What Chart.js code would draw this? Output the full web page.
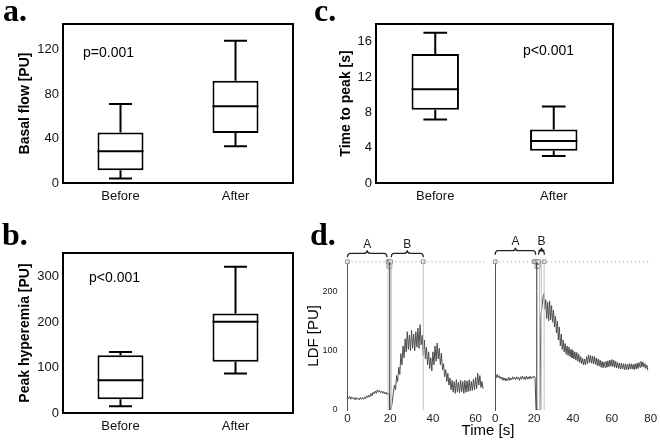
<!DOCTYPE html>
<html>
<head>
<meta charset="utf-8">
<script src="https://cdn.jsdelivr.net/npm/chart.js@4.4.0/dist/chart.umd.min.js"></script>
<style>
html, body { margin: 0; padding: 0; background: #fff; }
#fig { position: relative; width: 660px; height: 443px; overflow: hidden; background: #fff;
       font-family: "Liberation Sans", Arial, sans-serif; color: #000; }
#fig canvas { position: absolute; }
.panel { position: absolute; font-family: "Liberation Serif", "Times New Roman", serif;
         font-weight: bold; font-size: 32px; line-height: 32px; }
.note { position: absolute; font-size: 14px; line-height: 16px; white-space: nowrap; }
</style>
</head>
<body>
<div id="fig">
  <canvas id="chartA" width="300" height="215" style="left:0;top:0"></canvas>
  <canvas id="chartB" width="300" height="223" style="left:0;top:220px"></canvas>
  <canvas id="chartC" width="300" height="215" style="left:320px;top:0"></canvas>
  <canvas id="chartD1" width="190" height="218" style="left:300px;top:225px"></canvas>
  <canvas id="chartD2" width="170" height="218" style="left:490px;top:225px"></canvas>

  <div class="panel" style="left:3px;top:-6px">a.</div>
  <div class="panel" style="left:314px;top:-6px">c.</div>
  <div class="panel" style="left:2px;top:218px">b.</div>
  <div class="panel" style="left:310px;top:218px">d.</div>

  <div class="note" style="left:83px;top:44px">p=0.001</div>
  <div class="note" style="left:89px;top:269px">p&lt;0.001</div>
  <div class="note" style="left:523px;top:42px">p&lt;0.001</div>
  <div class="note" style="left:438px;top:421px;width:100px;text-align:center;font-size:15px;line-height:18px">Time [s]</div>
</div>

<script>
Chart.defaults.font.family = '"Liberation Sans", Arial, sans-serif';
Chart.defaults.color = '#000';
Chart.defaults.animation = false;

const groups = ['Before', 'After'];

// a. basal flow [PU]
const basalMin = [4, 33];
const basalQ1 = [11.5, 45];
const basalMedian = [28.5, 69];
const basalQ3 = [45.5, 92];
const basalMax = [71, 128];
const basalTicks = [0, 40, 80, 120];

// b. peak hyperemia [PU]
const peakMin = [15, 87];
const peakQ1 = [30, 113];
const peakMedian = [72, 201];
const peakQ3 = [127, 219];
const peakMax = [134, 322];
const peakTicks = [0, 100, 200, 300];

// c. time to peak [s]
const ttpMin = [7.2, 3.05];
const ttpQ1 = [8.3, 3.65];
const ttpMedian = [10.6, 4.75];
const ttpQ3 = [14.6, 6.05];
const ttpMax = [17, 8.65];
const ttpTicks = [0, 4, 8, 12, 16];

// d. LDF recordings, one sample every 0.5 s
const sampleStep = 0.5;
const ldfBefore = [
  22, 19, 23, 18, 22, 19, 21, 17, 21, 18,
  20, 17, 21, 18, 21, 18, 22, 19, 24, 21,
  25, 22, 28, 24, 30, 27, 32, 28, 34, 30,
  33, 29, 32, 28, 31, 27, 30, 26, 29, 27,
  0, 3, 14, 30, 42, 34, 58, 48, 72, 60,
  95, 76, 108, 88, 120, 98, 132, 102, 126, 100,
  134, 104, 128, 100, 132, 106, 138, 104, 144, 110,
  126, 92, 118, 86, 106, 76, 98, 70, 88, 66,
  98, 76, 108, 82, 113, 86, 104, 76, 96, 68,
  78, 56, 68, 48, 62, 42, 54, 34, 50, 30,
  48, 28, 51, 30, 47, 29, 50, 31, 48, 28,
  50, 30, 49, 31, 51, 32, 48, 33, 52, 34,
  55, 36, 62, 42, 58, 38, 48, 36
];
const ldfAfter = [
  58, 54, 60, 55, 58, 53, 56, 51, 55, 50,
  54, 49, 53, 50, 55, 50, 54, 51, 56, 52,
  55, 51, 56, 52, 55, 50, 56, 52, 57, 52,
  56, 51, 57, 52, 56, 52, 57, 53, 56, 54,
  57, 55, 0, 0, 0, 0, 0, 160, 172, 188,
  196, 170, 186, 154, 182, 150, 184, 152, 176, 148,
  168, 140, 158, 130, 150, 118, 140, 108, 128, 102,
  118, 98, 112, 94, 108, 92, 106, 90, 102, 88,
  100, 86, 98, 84, 97, 82, 94, 80, 90, 78,
  87, 76, 86, 76, 90, 78, 93, 80, 92, 79,
  91, 78, 90, 77, 88, 75, 86, 74, 84, 72,
  82, 71, 81, 72, 82, 72, 83, 73, 84, 74,
  85, 73, 84, 72, 82, 71, 80, 70, 79, 69,
  79, 69, 78, 68, 78, 68, 77, 68, 78, 69,
  78, 69, 77, 68, 78, 69, 79, 70, 80, 72,
  82, 73, 81, 72, 78, 70, 76, 67
];
const ldfTicks = [0, 100, 200];
const timeTicksBefore = [0, 20, 40, 60];
const timeTicksAfter = [0, 20, 40, 60, 80];
const ldfTop = 250;

// event lines (s): dark = cuff, light = marks
const cuffBefore = [19.8];
const marksBefore = [19.0, 20.5, 35.5];
const cuffAfter = [21.4];
const marksAfter = [22.8, 23.7, 25.2];
// marker boxes on the top row and the row under it
const boxesTopBefore = [0, 19.0, 19.6, 20.2, 35.5];
const boxesLowBefore = [19.3, 19.9];
const boxesTopAfter = [0, 20.0, 20.8, 21.6, 22.4, 25.2];
const boxesLowAfter = [21.4, 22.2];
const bracketsBefore = [{ from: 0, to: 18.5, label: 'A' }, { from: 20.5, to: 35.5, label: 'B' }];
const bracketsAfter = [{ from: 0, to: 20.8, label: 'A' }, { from: 22.3, to: 25.3, label: 'B' }];


const boxPlot = {
  id: 'boxPlot',
  afterDatasetsDraw(chart) {
    const ctx = chart.ctx;
    const y = chart.scales.y;
    const st = chart.data.datasets[0].stats;
    const bars = chart.getDatasetMeta(0).data;
    ctx.save();
    ctx.strokeStyle = '#000';
    ctx.lineWidth = 2;
    ctx.beginPath();
    bars.forEach((bar, i) => {
      const half = bar.width / 2;
      const cap = half / 2;
      const yMin = y.getPixelForValue(st.min[i]);
      const yQ1 = y.getPixelForValue(st.q1[i]);
      const yMed = y.getPixelForValue(st.median[i]);
      const yQ3 = y.getPixelForValue(st.q3[i]);
      const yMax = y.getPixelForValue(st.max[i]);
      ctx.moveTo(bar.x - half, yMed); ctx.lineTo(bar.x + half, yMed);
      ctx.moveTo(bar.x, yQ3); ctx.lineTo(bar.x, yMax);
      ctx.moveTo(bar.x - cap, yMax); ctx.lineTo(bar.x + cap, yMax);
      ctx.moveTo(bar.x, yQ1); ctx.lineTo(bar.x, yMin);
      ctx.moveTo(bar.x - cap, yMin); ctx.lineTo(bar.x + cap, yMin);
    });
    ctx.stroke();
    const a = chart.chartArea;
    ctx.strokeRect(a.left, a.top, a.right - a.left, a.bottom - a.top);
    ctx.restore();
  }
};

function boxChart(id, stats, yTitle, yMax, yTicks, pad, yWidth, xHeight) {
  return new Chart(document.getElementById(id), {
    type: 'bar',
    data: {
      labels: groups,
      datasets: [{
        data: stats.q1.map((v, i) => [v, stats.q3[i]]),
        stats: stats,
        backgroundColor: '#fff',
        borderColor: '#000',
        borderWidth: 2,
        borderSkipped: false,
        barPercentage: 0.4,
        categoryPercentage: 1
      }]
    },
    options: {
      responsive: false,
      layout: { padding: pad },
      plugins: { legend: { display: false }, tooltip: { enabled: false } },
      scales: {
        x: {
          grid: { display: false, drawTicks: false }, border: { display: false },
          ticks: { font: { size: 13 }, padding: 6, color: '#111' },
          afterFit: s => { s.height = xHeight; }
        },
        y: {
          min: 0, max: yMax,
          grid: { display: false, drawTicks: false }, border: { display: false },
          ticks: { font: { size: 13 }, padding: 4, color: '#111' },
          afterBuildTicks: s => { s.ticks = yTicks.map(v => ({ value: v })); },
          afterFit: s => { s.width = yWidth; },
          title: { display: true, text: yTitle, font: { size: 14, weight: 'bold' }, padding: 0 }
        }
      }
    },
    plugins: [boxPlot]
  });
}

boxChart('chartA',
  { min: basalMin, q1: basalQ1, median: basalMedian, q3: basalQ3, max: basalMax },
  'Basal flow [PU]', 143, basalTicks, { left: 16.6, top: 24, right: 7, bottom: 0 }, 46.4, 32);
boxChart('chartB',
  { min: peakMin, q1: peakQ1, median: peakMedian, q3: peakQ3, max: peakMax },
  'Peak hyperemia [PU]', 352, peakTicks, { left: 16.6, top: 33, right: 7, bottom: 0 }, 46.4, 30);
boxChart('chartC',
  { min: ttpMin, q1: ttpQ1, median: ttpMedian, q3: ttpQ3, max: ttpMax },
  'Time to peak [s]', 18, ttpTicks, { left: 17.3, top: 24, right: 7, bottom: 0 }, 38.7, 32);


const brackets = {
  id: 'brackets',
  afterDraw(chart) {
    const list = chart.options.plugins.brackets.list;
    const lift = chart.options.plugins.brackets.lift;
    const ctx = chart.ctx;
    const x = chart.scales.x;
    const y0 = chart.chartArea.top - lift;
    ctx.save();
    ctx.strokeStyle = '#222';
    ctx.lineWidth = 1.3;
    ctx.fillStyle = '#222';
    ctx.font = '12px "Liberation Sans", Arial, sans-serif';
    ctx.textAlign = 'center';
    ctx.textBaseline = 'middle';
    list.forEach(b => {
      const x1 = x.getPixelForValue(b.from);
      const x2 = x.getPixelForValue(b.to);
      const xm = (x1 + x2) / 2;
      ctx.beginPath();
      ctx.moveTo(x1, y0 + 4);
      ctx.quadraticCurveTo(x1, y0, x1 + 3, y0);
      ctx.lineTo(xm - 3, y0);
      ctx.quadraticCurveTo(xm, y0, xm, y0 - 3);
      ctx.quadraticCurveTo(xm, y0, xm + 3, y0);
      ctx.lineTo(x2 - 3, y0);
      ctx.quadraticCurveTo(x2, y0, x2, y0 + 4);
      ctx.stroke();
      ctx.fillText(b.label, xm, y0 - 9);
    });
    ctx.restore();
  }
};

function ldfChart(id, values, xMax, xTicks, cuff, marks, boxesTop, boxesLow, list, lift, opts) {
  const sets = [];
  marks.forEach(t => sets.push({
    data: [{ x: t, y: 0 }, { x: t, y: ldfTop }],
    borderColor: '#c4c4c4', borderWidth: 1, pointRadius: 0
  }));
  cuff.forEach(t => sets.push({
    data: [{ x: t, y: 0 }, { x: t, y: ldfTop }],
    borderColor: '#333', borderWidth: 1, pointRadius: 0
  }));
  sets.push({
    data: [{ x: 0, y: ldfTop }, { x: xMax, y: ldfTop }],
    borderColor: '#999', borderWidth: 1, borderDash: [1, 3], pointRadius: 0, clip: false
  });
  sets.push({
    data: values.map((v, i) => ({ x: i * sampleStep, y: v })),
    borderColor: '#4d4d4d', borderWidth: 1, pointRadius: 0
  });
  sets.push({
    data: boxesTop.map(t => ({ x: t, y: ldfTop })).concat(boxesLow.map(t => ({ x: t, y: ldfTop - 8 }))),
    showLine: false, pointStyle: 'rect', pointRadius: 2.6,
    borderColor: '#777', borderWidth: 0.8, backgroundColor: '#fff', clip: false
  });
  return new Chart(document.getElementById(id), {
    type: 'line',
    data: { datasets: sets },
    options: {
      responsive: false,
      layout: { padding: opts.pad },
      plugins: {
        legend: { display: false }, tooltip: { enabled: false },
        brackets: { list: list, lift: lift }
      },
      scales: {
        x: {
          type: 'linear', min: 0, max: xMax,
          grid: { display: false, drawTicks: false }, border: { display: false },
          ticks: { font: { size: 11.5 }, padding: 2, maxRotation: 0, color: '#222' },
          afterBuildTicks: s => { s.ticks = xTicks.map(v => ({ value: v })); },
          afterFit: s => { s.height = 33; }
        },
        y: {
          min: 0, max: ldfTop,
          grid: { display: false, drawTicks: false },
          border: { display: true, color: '#555', width: 1 },
          ticks: { display: opts.showY, font: { size: 9 }, padding: 10, color: '#222' },
          afterBuildTicks: s => { s.ticks = ldfTicks.map(v => ({ value: v })); },
          afterFit: s => { s.width = opts.yWidth; },
          title: { display: opts.showY, text: 'LDF [PU]', font: { size: 15 }, padding: 0 }
        }
      }
    },
    plugins: [brackets]
  });
}

ldfChart('chartD1', ldfBefore, 64.5, timeTicksBefore, cuffBefore, marksBefore,
  boxesTopBefore, boxesLowBefore, bracketsBefore, 8.4,
  { pad: { left: 5, top: 36.7, right: 4, bottom: 0 }, yWidth: 42.5, showY: true });
ldfChart('chartD2', ldfAfter, 80, timeTicksAfter, cuffAfter, marksAfter,
  boxesTopAfter, boxesLowAfter, bracketsAfter, 11,
  { pad: { left: 4.5, top: 36.7, right: 9.3, bottom: 0 }, yWidth: 0, showY: false });
</script>
</body>
</html>
